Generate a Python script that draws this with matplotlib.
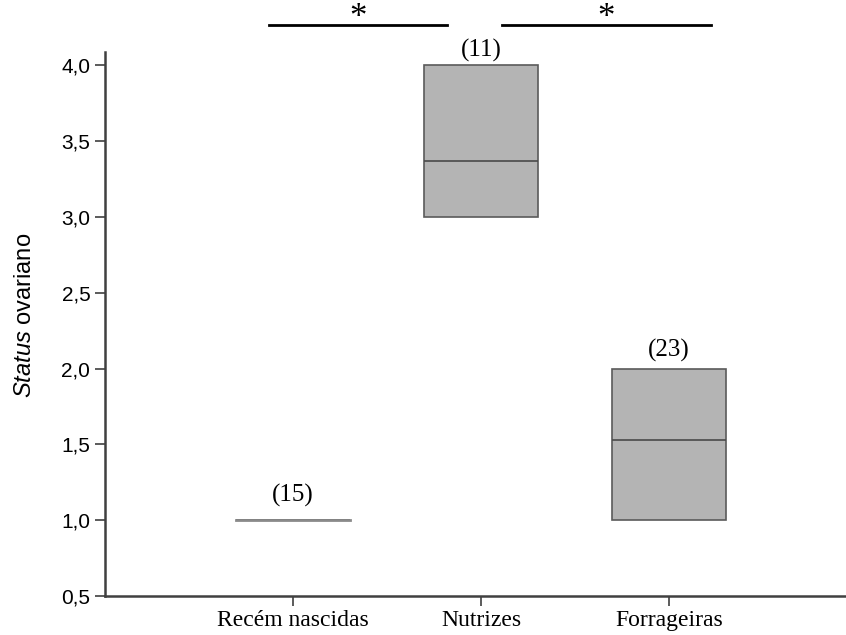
import matplotlib.pyplot as plt

plt.rcParams['font.family'] = 'Liberation Sans'
plt.rcParams['mathtext.fontset'] = 'custom'
plt.rcParams['mathtext.rm'] = 'Liberation Sans'
plt.rcParams['mathtext.it'] = 'Liberation Sans:italic'

# box stats
groups = ['Recém nascidas', 'Nutrizes', 'Forrageiras']
q1 = [1.0, 3.0, 1.0]
medians = [1.0, 3.37, 1.53]
q3 = [1.0, 4.0, 2.0]
n_labels = ['(15)', '(11)', '(23)']
n_label_gap = [0.09, 0.025, 0.045]

# significance bars: (x start, x end)
sig_spans = [(0.87, 1.82), (2.11, 3.22)]
sig_y = 4.265

fig = plt.figure(figsize=(8.46, 6.35), dpi=100)
ax = fig.add_axes([0.124, 0.0614, 0.876, 0.857])

stats = []
for i in range(len(groups)):
    stats.append({'q1': q1[i], 'med': medians[i], 'q3': q3[i],
                  'whislo': q1[i], 'whishi': q3[i], 'fliers': []})

pos = [1, 2, 3]
ax.bxp(stats, positions=pos, widths=0.605, patch_artist=True,
       showcaps=False, showfliers=False,
       boxprops=dict(facecolor='#b4b4b4', edgecolor='#5a5a5a', linewidth=1.2),
       medianprops=dict(color='#4a4a4a', linewidth=1.2),
       whiskerprops=dict(color='#5a5a5a', linewidth=1.2))
# the flat box for the newborns shows as a plain grey line
ax.plot([pos[0] - 0.3025, pos[0] + 0.3025], [q1[0], q1[0]], color='#8a8a8a', lw=2, zorder=3)

for i in range(len(groups)):
    ax.text(pos[i], q3[i] + n_label_gap[i], n_labels[i], ha='center', va='bottom',
            family='Liberation Serif', fontsize=18)

for (x0, x1) in sig_spans:
    ax.plot([x0, x1], [sig_y, sig_y], color='black', lw=2, clip_on=False)
    ax.text((x0 + x1) / 2, sig_y - 0.01, '*', ha='center', va='baseline',
            family='Liberation Serif', fontsize=25, clip_on=False)

ax.set_xlim(0, 3.94)
ax.set_ylim(0.5, 4.09)
ax.set_xticks(pos)
ax.set_xticklabels(groups, family='Liberation Serif', fontsize=17)
ax.set_yticks([0.5, 1.0, 1.5, 2.0, 2.5, 3.0, 3.5, 4.0])
ax.set_yticklabels(['0,5', '1,0', '1,5', '2,0', '2,5', '3,0', '3,5', '4,0'], fontsize=15)
ax.set_ylabel(r'$\it{Status}$ ovariano', fontsize=17)
ax.yaxis.set_label_coords(-0.093, 0.515)

ax.spines['top'].set_visible(False)
ax.spines['right'].set_visible(False)
for s in ['left', 'bottom']:
    ax.spines[s].set_color('#404040')
    ax.spines[s].set_linewidth(1.8)
ax.tick_params(axis='both', color='#404040', width=1.2, length=7)
ax.tick_params(axis='x', pad=3)

fig.savefig('out.png', dpi=100)
